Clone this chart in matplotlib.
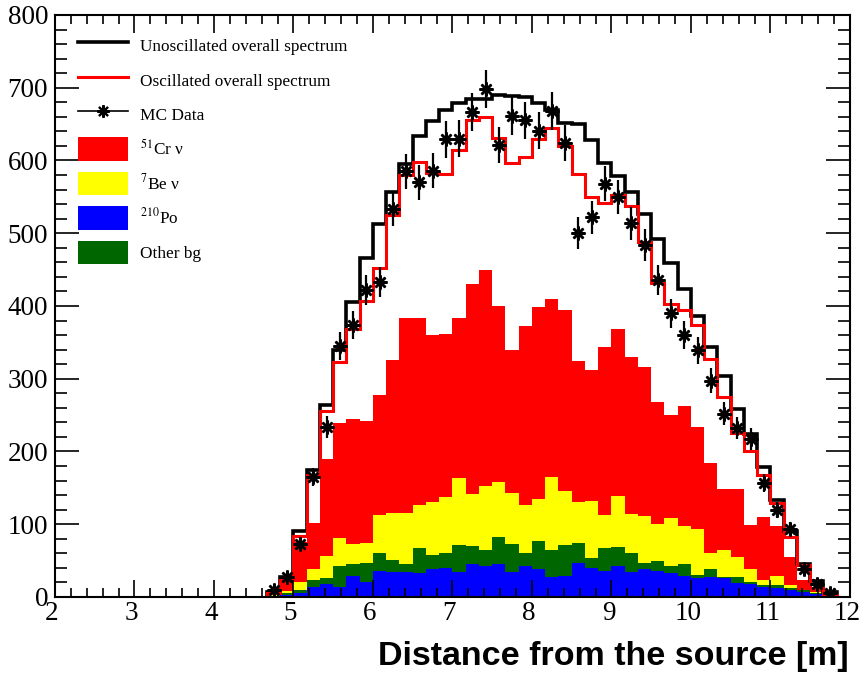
import numpy as np
import matplotlib
matplotlib.use('Agg')
import matplotlib.pyplot as plt
import matplotlib.transforms as mtransforms
from matplotlib.lines import Line2D
from matplotlib.patches import Patch

plt.rcParams['font.family'] = ['Liberation Serif', 'DejaVu Serif']
plt.rcParams['mathtext.fontset'] = 'stix'

# histogram binning: 60 bins of 1/6 m from 2 to 12, filled bins 16..58
all_edges = np.linspace(2, 12, 61)
first_bin = 16
nbins = 43
edges = all_edges[first_bin:first_bin + nbins + 1]

# stacked components (counts per bin)
po210 = [1, 3, 6, 14, 18, 14, 29, 20, 36, 35, 35, 33, 38, 40, 35, 46, 42, 45, 35, 43, 38, 28,
         29, 47, 40, 36, 43, 35, 38, 36, 33, 29, 26, 27, 26, 19, 18, 14, 12, 9, 7, 4, 1]
other_top = [2, 5, 9, 23, 26, 43, 45, 47, 60, 51, 46, 68, 58, 61, 71, 70, 65, 83, 73, 61, 77, 64,
             72, 74, 54, 68, 69, 60, 47, 49, 43, 46, 30, 39, 28, 28, 20, 16, 16, 12, 9, 5, 1]
be7_top = [3, 8, 20, 39, 57, 81, 73, 74, 113, 116, 116, 126, 130, 137, 164, 141, 153, 158, 143,
           127, 135, 165, 145, 130, 132, 112, 139, 114, 111, 100, 108, 97, 93, 61, 65, 55, 39,
           23, 29, 16, 10, 7, 2]
cr51_top = [4, 22, 75, 101, 190, 239, 244, 242, 278, 326, 383, 383, 360, 361, 384, 430, 449,
            400, 340, 372, 399, 409, 395, 325, 312, 343, 368, 330, 316, 268, 250, 262, 234,
            184, 149, 149, 99, 110, 97, 55, 24, 12, 3]

unosc = [7, 27, 91, 175, 264, 340, 406, 466, 513, 557, 595, 633, 654, 669, 679, 684, 684, 690,
         689, 687, 679, 669, 651, 650, 628, 596, 578, 557, 526, 492, 459, 424, 386, 344, 304,
         258, 224, 178, 133, 90, 46, 22, 7]
osc = [5, 24, 84, 168, 255, 323, 369, 407, 452, 525, 580, 598, 583, 581, 614, 656, 660, 631,
       596, 605, 629, 644, 620, 581, 550, 541, 553, 538, 488, 432, 403, 394, 374, 327, 275, 225,
       201, 168, 129, 83, 44, 12, 3]
mc_data = [10, 28, 73, 165, 234, 345, 374, 422, 433, 533, 585, 570, 586, 629, 630, 667, 698,
           621, 661, 655, 641, 668, 624, 500, 522, 568, 550, 514, 484, 436, 390, 360, 339, 297,
           252, 232, 217, 157, 120, 94, 38, 18, 5]

po210 = np.array(po210)
other_top = np.array(other_top)
be7_top = np.array(be7_top)
cr51_top = np.array(cr51_top)
mc_data = np.array(mc_data)

fig = plt.figure(figsize=(8.62, 6.75), dpi=100)
ax = fig.add_axes([0.0638, 0.1156, 0.9222, 0.8622])

c_red = '#ff0000'
c_yel = '#ffff00'
c_blue = '#0000ff'
c_green = '#006600'

ax.stairs(cr51_top, edges, baseline=be7_top, fill=True, color=c_red, lw=0)
ax.stairs(be7_top, edges, baseline=other_top, fill=True, color=c_yel, lw=0)
ax.stairs(other_top, edges, baseline=po210, fill=True, color=c_green, lw=0)
ax.stairs(po210, edges, baseline=0, fill=True, color=c_blue, lw=0)

ax.stairs(unosc, edges, color='black', lw=2.6)
ax.stairs(osc, edges, color=c_red, lw=2.2)

centers = 0.5 * (edges[:-1] + edges[1:])
ax.errorbar(centers, mc_data, yerr=np.sqrt(mc_data), fmt='none', ecolor='black', elinewidth=1.6)
ax.plot(centers, mc_data, ls='none', marker=(8, 2, 0), ms=10, mec='black', mew=1.8, color='black')

ax.set_xlim(2, 12)
ax.set_ylim(0, 800)
ax.set_xticks(range(2, 13))
ax.set_yticks(range(0, 801, 100))
ax.set_xticks(np.arange(2, 12.01, 0.2), minor=True)
ax.set_yticks(range(0, 801, 20), minor=True)
ax.tick_params(axis='x', which='major', direction='in', length=12.6, width=1.2, top=True,
               labelsize=19.5, pad=3)
ax.tick_params(axis='x', which='minor', direction='in', length=6.3, width=1.2, top=True)
ax.tick_params(axis='y', which='major', direction='in', length=17.5, width=1.2, right=True,
               labelsize=19.5, pad=5)
ax.tick_params(axis='y', which='minor', direction='in', length=8.7, width=1.2, right=True)
for s in ax.spines.values():
    s.set_linewidth(1.5)

# x labels sit a little left of their ticks, as in the original
shift = mtransforms.ScaledTranslation(-3 / 100, 0, fig.dpi_scale_trans)
for tick in ax.xaxis.get_major_ticks():
    tick.label1.set_transform(tick.label1.get_transform() + shift)

handles = [
    Line2D([], [], color='black', lw=2.6),
    Line2D([], [], color=c_red, lw=2.2),
    Line2D([], [], color='black', lw=1.2, marker=(8, 2, 0), ms=9, mew=1.5),
    Patch(facecolor=c_red, edgecolor='none'),
    Patch(facecolor=c_yel, edgecolor='none'),
    Patch(facecolor=c_blue, edgecolor='none'),
    Patch(facecolor=c_green, edgecolor='none'),
]
labels = ['Unoscillated overall spectrum', 'Oscillated overall spectrum', 'MC Data',
          r'$^{51}$Cr ν', r'$^{7}$Be ν', r'$^{210}$Po', 'Other bg']
ax.legend(handles, labels, loc='upper left', bbox_to_anchor=(0.029, 0.968), frameon=False,
          borderpad=0, borderaxespad=0, fontsize=12.4, handlelength=2.9, handleheight=1.75,
          labelspacing=0.62, handletextpad=0.7)

fig.text(0.984, 0.0148, 'Distance from the source [m]', ha='right', va='baseline',
         fontsize=24.5, fontweight='bold', family='Liberation Sans')

fig.savefig('out.png', dpi=100)
